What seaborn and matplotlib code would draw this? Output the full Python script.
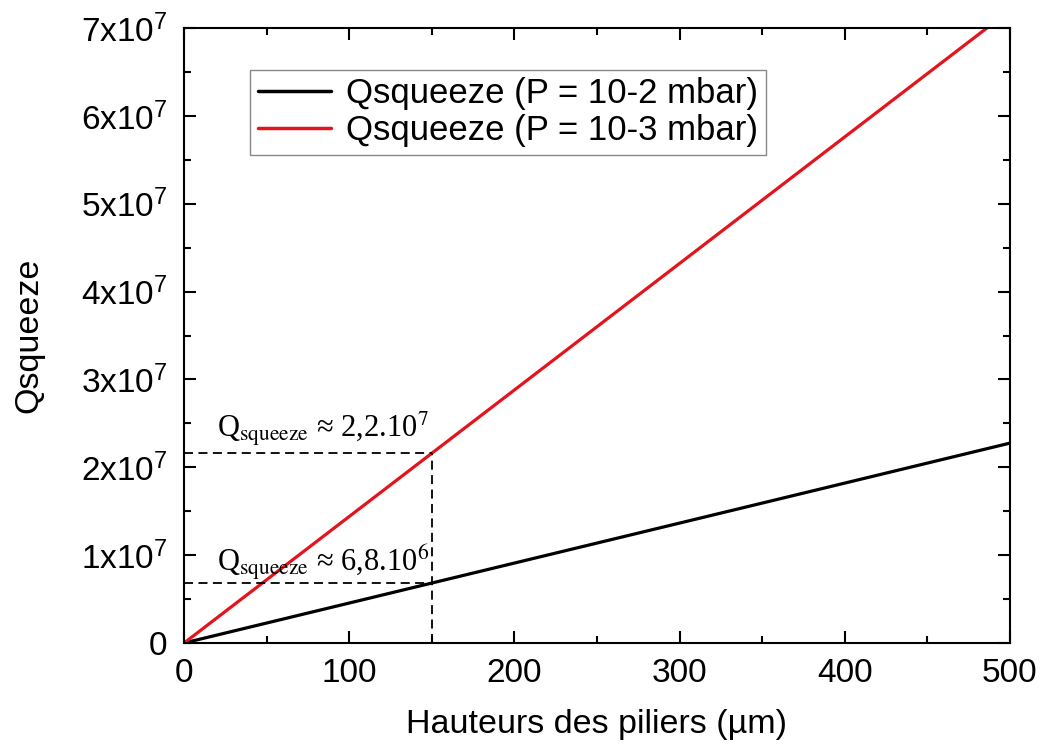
import numpy as np
import pandas as pd
import matplotlib
matplotlib.use("Agg")
import matplotlib.pyplot as plt
from matplotlib.font_manager import FontProperties
from matplotlib.ticker import FuncFormatter, MultipleLocator
import seaborn as sns

# ---- data ----
heights = [0, 100, 200, 300, 400, 500]
q_1e2 = [0, 4.55e6, 9.1e6, 1.365e7, 1.82e7, 2.275e7]
q_1e3 = [0, 1.44e7, 2.88e7, 4.32e7, 5.76e7, 7.2e7]
series_names = ["Qsqueeze (P = 10-2 mbar)", "Qsqueeze (P = 10-3 mbar)"]
series_colors = ["#000000", "#e3141b"]
mark_x = 150
mark_black = 6.8e6
mark_red = 2.16e7
annot_texts = [r"Q$_{\mathrm{squeeze}}$ ≈ 2,2.10$^{7}$", r"Q$_{\mathrm{squeeze}}$ ≈ 6,8.10$^{6}$"]

sns.set_theme(style="ticks")
plt.rcParams["font.family"] = ["Liberation Sans", "DejaVu Sans"]
plt.rcParams["mathtext.fontset"] = "custom"
plt.rcParams["mathtext.rm"] = "Liberation Sans"
plt.rcParams["mathtext.it"] = "Liberation Sans:italic"
plt.rcParams["mathtext.bf"] = "Liberation Sans:bold"
plt.rcParams["text.color"] = "black"
plt.rcParams["axes.labelcolor"] = "black"

df = pd.DataFrame({
    "x": heights * 2,
    "y": q_1e2 + q_1e3,
    "serie": [series_names[0]] * len(heights) + [series_names[1]] * len(heights),
})

fig = plt.figure(figsize=(10.4, 7.49), dpi=100)
ax = fig.add_axes([0.177, 0.1415, 0.794, 0.8211])

sns.lineplot(data=df, x="x", y="y", hue="serie", palette=series_colors,
             linewidth=2.3, ax=ax, legend=True)

ax.set_xlim(0, 500)
ax.set_ylim(0, 7e7)

# dashed guide lines
dash = (0, (5, 3))
ax.plot([0, mark_x], [mark_red, mark_red], ls=dash, color="black", lw=1.3)
ax.plot([0, mark_x], [mark_black, mark_black], ls=dash, color="black", lw=1.3)
ax.plot([mark_x, mark_x], [0, mark_red], ls=dash, color="black", lw=1.3)

fp = FontProperties(family="Liberation Serif", size=22, math_fontfamily="stix")
ax.text(20, 2.44e7, annot_texts[0], fontproperties=fp, va="center", ha="left")
ax.text(20, 0.91e7, annot_texts[1], fontproperties=fp, va="center", ha="left")

def yfmt(v, pos):
    if abs(v) < 1:
        return "0"
    return r"%dx10$^{7}$" % round(v / 1e7)

ax.yaxis.set_major_locator(MultipleLocator(1e7))
ax.yaxis.set_minor_locator(MultipleLocator(0.5e7))
ax.yaxis.set_major_formatter(FuncFormatter(yfmt))
ax.xaxis.set_major_locator(MultipleLocator(100))
ax.xaxis.set_minor_locator(MultipleLocator(50))

ax.tick_params(which="both", direction="in", top=True, right=True, width=1.5,
               colors="black", labelsize=24)
ax.tick_params(axis="x", which="major", pad=11)
ax.tick_params(axis="y", which="major", pad=12)
ax.tick_params(which="major", length=8.5)
ax.tick_params(which="minor", length=5)
for s in ax.spines.values():
    s.set_linewidth(1.5)
    s.set_color("black")

ax.set_xlabel("Hauteurs des piliers (µm)", fontsize=24.5, labelpad=14)
ax.set_ylabel("Qsqueeze", fontsize=24.5, labelpad=26)

leg = ax.legend(loc="upper left", bbox_to_anchor=(0.08, 0.932), borderaxespad=0,
                fancybox=False, frameon=True, edgecolor="#888888", framealpha=1,
                fontsize=25, handlelength=2.1, handletextpad=0.45, borderpad=0.22,
                labelspacing=0.1, title=None)
leg.get_frame().set_linewidth(1.0)
for h in leg.get_lines():
    h.set_linewidth(2.5)

fig.savefig("out.png", dpi=100)
